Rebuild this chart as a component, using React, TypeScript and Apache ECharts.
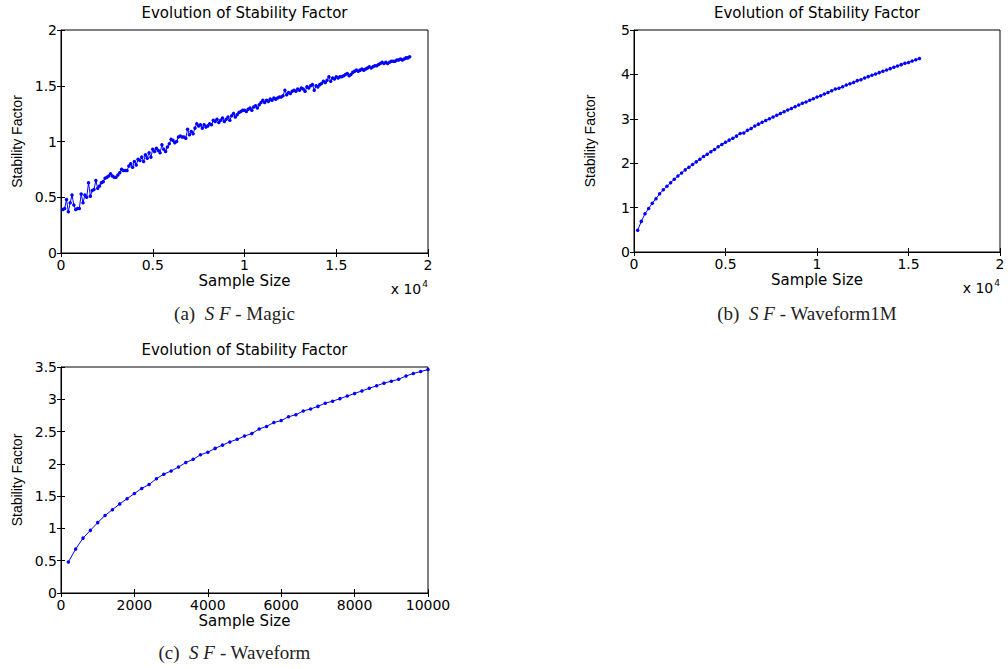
import React, { useEffect, useRef } from "react";
import * as echarts from "echarts";

// Panel (a): SF - Magic, sample sizes 100..19000 (step 100)
const magicSF = [
  0.39, 0.40, 0.48, 0.37, 0.45, 0.52, 0.43, 0.39, 0.40, 0.40,
  0.53, 0.45, 0.52, 0.50, 0.63, 0.51, 0.56, 0.57, 0.65, 0.58,
  0.60, 0.63, 0.64, 0.67, 0.68, 0.69, 0.71, 0.69, 0.68, 0.68,
  0.70, 0.72, 0.75, 0.74, 0.74, 0.74, 0.78, 0.80, 0.77, 0.82,
  0.79, 0.84, 0.83, 0.86, 0.82, 0.88, 0.85, 0.90, 0.86, 0.93,
  0.91, 0.94, 0.92, 0.90, 0.97, 0.93, 0.91, 0.95, 0.98, 1.02,
  1.01, 0.99, 1.00, 1.04, 1.05, 1.04, 1.04, 1.03, 1.11, 1.06,
  1.09, 1.07, 1.12, 1.16, 1.14, 1.15, 1.12, 1.15, 1.13, 1.14,
  1.16, 1.15, 1.19, 1.18, 1.20, 1.17, 1.19, 1.21, 1.18, 1.20,
  1.22, 1.19, 1.23, 1.25, 1.22, 1.24, 1.26, 1.27, 1.28, 1.28,
  1.27, 1.29, 1.30, 1.28, 1.31, 1.32, 1.30, 1.33, 1.35, 1.37,
  1.35, 1.37, 1.36, 1.38, 1.37, 1.39, 1.38, 1.39, 1.40, 1.40,
  1.41, 1.46, 1.42, 1.44, 1.43, 1.45, 1.46, 1.45, 1.47, 1.46,
  1.48, 1.47, 1.45, 1.49, 1.48, 1.50, 1.51, 1.46, 1.50, 1.49,
  1.51, 1.52, 1.54, 1.53, 1.55, 1.58, 1.54, 1.57, 1.56, 1.58,
  1.57, 1.58, 1.58, 1.59, 1.60, 1.61, 1.59, 1.60, 1.62, 1.63,
  1.64, 1.63, 1.64, 1.65, 1.64, 1.65, 1.66, 1.67, 1.66, 1.67,
  1.68, 1.68, 1.69, 1.70, 1.71, 1.70, 1.71, 1.70, 1.71, 1.72,
  1.72, 1.72, 1.73, 1.73, 1.74, 1.73, 1.74, 1.75, 1.75, 1.76,
];
const magicStep = 100;

// Panel (b): SF - Waveform1M, sample sizes 200..15600 (step 200)
const waveform1MSF = [
  0.49, 0.69, 0.86, 0.98, 1.10, 1.20, 1.31, 1.40, 1.48, 1.56,
  1.64, 1.71, 1.78, 1.85, 1.91, 1.97, 2.03, 2.09, 2.15, 2.20,
  2.26, 2.31, 2.37, 2.42, 2.47, 2.52, 2.56, 2.61, 2.67, 2.68,
  2.74, 2.78, 2.84, 2.88, 2.92, 2.96, 3.00, 3.04, 3.08, 3.12,
  3.16, 3.20, 3.23, 3.27, 3.31, 3.35, 3.38, 3.42, 3.45, 3.49,
  3.52, 3.56, 3.59, 3.63, 3.67, 3.69, 3.72, 3.76, 3.79, 3.82,
  3.86, 3.88, 3.92, 3.95, 3.98, 4.01, 4.04, 4.07, 4.10, 4.13,
  4.16, 4.19, 4.22, 4.25, 4.27, 4.30, 4.33, 4.36,
];
const waveform1MStep = 200;

// Panel (c): SF - Waveform, sample sizes 200..10000 (step 200)
const waveformSF = [
  0.48, 0.68, 0.85, 0.97, 1.09, 1.20, 1.29, 1.38, 1.46, 1.54,
  1.62, 1.68, 1.77, 1.84, 1.89, 1.95, 2.02, 2.07, 2.14, 2.18,
  2.24, 2.29, 2.34, 2.38, 2.43, 2.47, 2.54, 2.58, 2.64, 2.67,
  2.73, 2.76, 2.82, 2.85, 2.89, 2.94, 2.97, 3.01, 3.05, 3.09,
  3.13, 3.17, 3.21, 3.25, 3.28, 3.31, 3.36, 3.40, 3.43, 3.46,
];
const waveformStep = 200;

const titleText = "Evolution of Stability Factor";
const xName = "Sample Size";
const yName = "Stability Factor";

const H_FONT = "DejaVu Sans, sans-serif";
const V_FONT = "Liberation Sans, Arial, sans-serif";
const SERIF = "Liberation Serif, Times New Roman, serif";

const toPairs = (vals: number[], step: number) => vals.map((v, i) => [(i + 1) * step, v]);

export default function App() {
  const ref = useRef<HTMLDivElement>(null);
  useEffect(() => {
    if (!ref.current) return;
    const chart = echarts.init(ref.current, null, { renderer: "svg" });

    const panels = [
      { grid: { left: 61, top: 30, width: 367, height: 223 }, xMax: 20000, xInt: 5000, yMax: 2, yInt: 0.5, sci: true, data: toPairs(magicSF, magicStep), cap: "(a)", capName: "Magic", capY: 313 },
      { grid: { left: 634, top: 30, width: 366, height: 222 }, xMax: 20000, xInt: 5000, yMax: 5, yInt: 1, sci: true, data: toPairs(waveform1MSF, waveform1MStep), cap: "(b)", capName: "Waveform1M", capY: 313 },
      { grid: { left: 61, top: 367, width: 367, height: 226 }, xMax: 10000, xInt: 2000, yMax: 3.5, yInt: 0.5, sci: false, data: toPairs(waveformSF, waveformStep), cap: "(c)", capName: "Waveform", capY: 652 },
    ];

    const grids: any[] = [];
    const xAxes: any[] = [];
    const yAxes: any[] = [];
    const series: any[] = [];
    const graphics: any[] = [];

    panels.forEach((p, i) => {
      grids.push({ ...p.grid, show: true, borderColor: "#000", borderWidth: 1, backgroundColor: "#fff", containLabel: false });
      const tick = { show: true, inside: true, length: 4, lineStyle: { color: "#000", width: 1 } };
      xAxes.push({
        type: "value", gridIndex: i, position: "bottom", min: 0, max: p.xMax, interval: p.xInt,
        axisLine: { show: true, lineStyle: { color: "#000", width: 1 } },
        axisTick: tick,
        splitLine: { show: false },
        axisLabel: {
          color: "#000", fontFamily: H_FONT, fontSize: 14, lineHeight: 14, margin: 5,
          formatter: (v: number) => (p.sci ? String(v / 10000) : String(v)),
        },
      });
      xAxes.push({
        type: "value", gridIndex: i, position: "top", min: 0, max: p.xMax, interval: p.xInt,
        axisLine: { show: false }, axisTick: tick, axisLabel: { show: false }, splitLine: { show: false },
      });
      yAxes.push({
        type: "value", gridIndex: i, position: "left", min: 0, max: p.yMax, interval: p.yInt,
        axisLine: { show: true, lineStyle: { color: "#000", width: 1 } },
        axisTick: tick,
        splitLine: { show: false },
        axisLabel: { color: "#000", fontFamily: H_FONT, fontSize: 14, lineHeight: 14, margin: 4 },
      });
      yAxes.push({
        type: "value", gridIndex: i, position: "right", min: 0, max: p.yMax, interval: p.yInt,
        axisLine: { show: false }, axisTick: tick, axisLabel: { show: false }, splitLine: { show: false },
      });
      series.push({
        type: "line", xAxisIndex: i * 2, yAxisIndex: i * 2, data: p.data,
        symbol: "circle", symbolSize: 3.5, showSymbol: true,
        itemStyle: { color: "#0000ff" },
        lineStyle: { color: "#0000ff", width: 1 },
      });

      const g = p.grid;
      const cx = g.left + g.width / 2;
      graphics.push({
        type: "text", x: cx, y: g.top - 17,
        style: { text: titleText, fill: "#000", font: `15px ${H_FONT}`, align: "center", verticalAlign: "middle" },
      });
      graphics.push({
        type: "text", x: cx, y: g.top + g.height + 28,
        style: { text: xName, fill: "#000", font: `15px ${H_FONT}`, lineHeight: 15, align: "center", verticalAlign: "middle" },
      });
      graphics.push({
        type: "text", x: g.left - 44, y: g.top + g.height / 2, rotation: Math.PI / 2,
        style: { text: yName, fill: "#000", font: `14px ${V_FONT}`, align: "center", verticalAlign: "middle" },
      });
      if (p.sci) {
        graphics.push({
          type: "text", x: g.left + g.width, y: g.top + g.height + 36,
          style: {
            text: "{n|x 10}{s|4}", align: "right", verticalAlign: "middle",
            rich: {
              n: { fill: "#000", font: `14px ${H_FONT}` },
              s: { fill: "#000", font: `9px ${H_FONT}`, verticalAlign: "top", padding: [0, 0, 10, 1] },
            },
          },
        });
      }
      graphics.push({
        type: "text", x: cx - 10, y: p.capY,
        style: {
          text: `{n|${p.cap}  }{i|S F}{n| - ${p.capName}}`, align: "center", verticalAlign: "middle",
          rich: {
            n: { fill: "#222", font: `19px ${SERIF}` },
            i: { fill: "#222", font: `italic 19px ${SERIF}` },
          },
        },
      });
    });

    chart.setOption({
      animation: false,
      backgroundColor: "#fff",
      grid: grids,
      xAxis: xAxes,
      yAxis: yAxes,
      series,
      graphic: graphics,
    });
    return () => chart.dispose();
  }, []);

  return <div ref={ref} style={{ position: "fixed", left: 0, top: 0, width: 1008, height: 669 }} />;
}
